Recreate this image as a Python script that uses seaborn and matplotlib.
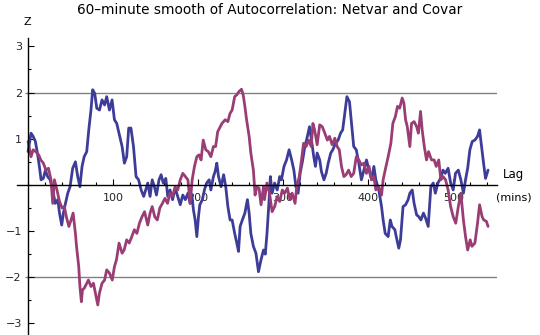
import numpy as np
import pandas as pd
import matplotlib
matplotlib.use("Agg")
import matplotlib.pyplot as plt
from matplotlib.ticker import MultipleLocator, FixedLocator
import seaborn as sns

# Smoothed autocorrelation (Z score) by lag, in minutes
netvar_lag = [0, 3.5, 6, 8.6, 11, 13.3, 15.3, 18, 20.4, 23, 26, 29, 32, 35, 37, 39.6, 41.6, 44, 46.7, 49.4,
              52.5, 55.7, 58.4, 61, 63.5, 66, 69, 71.4, 74, 76, 78.4, 80.8, 84, 87, 90, 92.5, 95.7, 98.8,
              101.6, 104.3, 107, 110.6, 113.3, 116, 118.4, 121, 124, 127, 130, 133, 136,
              140.8, 143.5, 146, 148.6, 151, 154, 156.5, 159, 162, 164.3, 167, 170, 173, 176, 179, 182, 185,
              188, 190.6, 192.6, 194.5, 196.5, 198.5, 200.4, 202, 205, 207.4, 210, 213, 215, 218, 220, 222,
              224, 227, 230, 232.5, 235, 237.6, 240, 243, 245.5, 247.5, 249.4, 252, 255, 258, 260, 262, 265,
              268, 271, 274, 276.9,
              279, 281, 283, 285, 287, 290, 293, 296, 298, 301, 304, 307, 310, 312.6, 315, 317.6, 320, 323,
              325.5, 328, 331, 333, 336, 338, 340, 343, 345, 348, 350.6, 353, 356, 358.4, 361.6, 364.7,
              367.5, 370, 372.5, 375, 378, 380.4, 383, 386, 389, 392, 395, 398, 401, 404, 406.7, 409,
              412.5, 415.7,
              417.6, 420, 423.5, 426, 428, 431.4, 433, 436, 438, 441, 444, 447, 449, 451.8, 454, 457, 459.6,
              462, 465, 467.5, 470.6, 473.7, 476.5, 479, 482, 485, 488, 490.6, 494, 497, 500, 502.7, 506,
              509, 512, 514.5, 517, 519.6, 522.4, 525.5, 528.6, 531, 533.3, 535.7, 538, 541]
netvar_z = [0.72, 1.12, 1.05, 0.94, 0.69, 0.40, 0.11, 0.14, 0.32, 0.18, 0.11, -0.11, -0.40, -0.32, -0.61,
            -0.87, -0.61, -0.40, -0.18, -0.04, 0.36, 0.50, 0.18, -0.04, 0.40, 0.61, 0.72, 1.19, 1.62, 2.06,
            1.98, 1.66, 1.62, 1.84, 1.73, 1.91, 1.62, 1.84, 1.41, 1.33, 1.12, 0.83, 0.47, 0.61, 1.23, 1.23,
            0.83, 0.18, 0.11, -0.11, -0.25,
            0.04, -0.25, 0.11, -0.04, -0.22, 0.11, 0.22, 0.04, 0.14, -0.25, -0.11, -0.32, -0.07, -0.25,
            -0.43, -0.22, -0.32, -0.18, -0.40, -0.22, -0.54, -0.76, -1.12, -0.69, -0.43, -0.32, -0.11, 0.04,
            0.11, -0.11, 0.18, 0.29, 0.47, 0.18, -0.04, 0.22, -0.04, -0.47, -0.76, -0.76, -1.05, -1.26,
            -1.44, -0.90, -0.76, -0.61, -0.32, -0.61, -1.05, -1.33, -1.48, -1.88, -1.62, -1.41,
            -1.50, -1.05, -0.47, 0.18, -0.18, 0.04, -0.11, 0.18, 0.11, 0.40, 0.54, 0.76, 0.54, 0.32, -0.04,
            -0.18, 0.25, 0.54, 0.83, 1.01, 1.26, 1.01, 0.61, 0.40, 0.69, 0.54, 0.29, 0.11, 0.25, 0.47, 0.69,
            0.76, 0.90, 0.97, 1.12, 1.19, 1.55, 1.91, 1.80, 1.33, 0.83, 0.76, 0.47, 0.11, 0.32, 0.54, 0.32,
            0.11, 0.40, 0.11, -0.11, -0.47,
            -0.76, -1.05, -1.12, -0.76, -0.90, -0.97, -1.12, -1.37, -1.19, -0.47, -0.43, -0.32, -0.18, -0.11,
            -0.40, -0.65, -0.69, -0.76, -0.61, -0.72, -0.90, -0.04, 0.04, -0.18, 0.04, 0.14, 0.32, 0.25,
            0.36, 0.04, -0.11, 0.25, 0.32, 0.11, -0.18, 0.11, 0.36, 0.76, 0.94, 0.97, 1.05, 1.19, 0.83,
            0.47, 0.14, 0.32]

covar_lag = [0, 3.5, 6, 9, 12.5, 15, 18, 21, 24, 27, 29, 31, 34, 37, 40, 42.7, 45, 48, 50.6, 53, 55.7, 57,
             59.6, 61, 62.7, 64, 66, 69, 71, 74, 76.9, 80, 82, 84, 87, 90, 92.5, 95.7, 99, 101.6, 104, 107,
             110.6, 113, 116, 119, 122, 125, 128, 131, 134, 137,
             140.8, 143.5, 146, 149, 152, 155, 158, 161, 164, 167, 170, 173, 176, 179, 182, 185, 188, 190.6,
             193, 195.7, 198.5, 201, 203.5, 206, 209, 212, 215, 218, 220.6, 223, 226, 228, 231.8, 235, 237.6,
             240, 243, 245.5, 248, 251, 253, 255, 257, 260, 262, 265, 267, 269, 271.6, 274, 276.9,
             278, 281, 284, 287, 290, 293, 296, 299, 302, 305, 308, 310.6, 314, 316, 319, 321.6, 324, 327,
             330, 333, 335, 337, 340, 343, 346, 349, 352, 354.5, 357.6, 360.8, 363.5, 366, 368.6, 371.4,
             374, 377, 380, 383, 386, 389, 392, 395, 398, 401, 404, 406.7, 409, 412.5, 415.7,
             417.6, 420, 423.5, 426.7, 429, 432, 434.5, 437, 440, 442, 444, 446, 449, 451, 454, 457, 459,
             461.6, 463.5, 466, 468.6, 471, 474.5, 477.6, 480, 483, 485.5, 488, 491, 494, 497, 500, 503,
             506, 509, 512, 514.5, 517, 520, 522, 525.5, 528.6, 531, 534, 536, 539, 541]
covar_z = [0.94, 0.61, 0.76, 0.72, 0.65, 0.54, 0.47, 0.32, 0.36, 0.11, -0.40, 0.11, -0.11, -0.36, -0.50,
           -0.47, -0.69, -0.90, -0.76, -0.61, -1.05, -1.33, -1.77, -2.20, -2.53, -2.27, -2.24, -2.13, -2.06,
           -2.20, -2.13, -2.42, -2.60, -2.34, -2.13, -2.06, -1.84, -1.91, -2.06, -1.77, -1.62, -1.26, -1.48,
           -1.41, -1.19, -1.26, -1.12, -0.97, -1.05, -0.83, -0.69, -0.58,
           -0.87, -0.61, -0.47, -0.69, -0.76, -0.50, -0.40, -0.29, -0.40, -0.18, -0.25, -0.04, -0.11, 0.11,
           0.25, 0.18, 0.11, -0.40, 0.11, 0.40, 0.61, 0.65, 0.54, 0.97, 0.76, 0.72, 0.61, 0.83, 0.83, 1.15,
           1.26, 1.33, 1.41, 1.37, 1.55, 1.62, 1.91, 1.95, 2.02, 2.07, 1.95, 1.70, 1.41, 1.05, 0.69, 0.32,
           -0.22, -0.04, -0.07, -0.43, -0.04,
           -0.32, 0.04, -0.18, -0.58, -0.47, -0.25, -0.36, -0.11, -0.18, -0.07, -0.32, -0.18, -0.40, -0.04,
           0.18, 0.54, 0.90, 0.83, 0.97, 0.83, 1.33, 1.19, 0.87, 1.30, 1.26, 1.12, 0.97, 1.05, 0.87, 1.01,
           0.83, 0.76, 0.40, 0.18, 0.22, 0.32, 0.18, 0.25, 0.61, 0.54, 0.43, 0.47, 0.25, 0.40, 0.11, 0.18,
           -0.11, -0.04, -0.22,
           0.11, 0.32, 0.61, 0.90, 1.33, 1.48, 1.70, 1.66, 1.88, 1.77, 1.41, 1.26, 0.83, 1.33, 1.37, 1.26,
           1.12, 1.59, 1.19, 0.83, 0.54, 0.72, 0.54, 0.54, 0.40, 0.54, 0.11, 0.18, 0.11, -0.11, -0.47,
           -0.69, -0.83, -0.47, -0.18, -0.76, -1.12, -1.41, -1.19, -1.33, -1.26, -0.83, -0.43, -0.69,
           -0.76, -0.79, -0.90]

x_ticks = [100, 200, 300, 400, 500]
y_ticks = [-3, -2, -1, 1, 2, 3]
ref_lines = [-2, 2]

title = "60\u2013minute smooth of Autocorrelation: Netvar and Covar"

sns.set_theme(style="white")
plt.rcParams["font.family"] = ["DejaVu Sans"]

df = pd.concat([
    pd.DataFrame({"lag": netvar_lag, "z": netvar_z, "series": "Netvar"}),
    pd.DataFrame({"lag": covar_lag, "z": covar_z, "series": "Covar"}),
])

W, H = 540, 335
fig = plt.figure(figsize=(W / 100, H / 100), dpi=100)
x0, x1 = 17, 497
y0, y1 = 38, 335
ax = fig.add_axes([x0 / W, 1 - y1 / H, (x1 - x0) / W, (y1 - y0) / H])

palette = {"Netvar": "#3d3d99", "Covar": "#993d74"}
sns.lineplot(data=df, x="lag", y="z", hue="series", palette=palette, estimator=None,
             sort=False, linewidth=2.0, legend=False, ax=ax)

ax.set_xlim(-13, 551.5)
ax.set_ylim(-3.25, 3.18)

for y in ref_lines:
    ax.hlines(y, -4, 551.5, color="#808080", linewidth=1.0, zorder=0)

for s in ["top", "right"]:
    ax.spines[s].set_visible(False)
ax.spines["left"].set_position(("data", 0))
ax.spines["bottom"].set_position(("data", 0))
for s in ["left", "bottom"]:
    ax.spines[s].set_color("black")
    ax.spines[s].set_linewidth(1.0)
    ax.spines[s].set_zorder(3)

ax.xaxis.set_major_locator(FixedLocator(x_ticks))
ax.xaxis.set_minor_locator(MultipleLocator(20))
ax.yaxis.set_major_locator(FixedLocator(y_ticks))
ax.yaxis.set_minor_locator(MultipleLocator(0.5))
ax.tick_params(axis="x", which="major", direction="in", length=4, width=0.8, color="black",
               labelsize=8, pad=5.5, bottom=True)
ax.tick_params(axis="x", which="minor", direction="in", length=2.5, width=0.8, color="black", bottom=True)
ax.tick_params(axis="y", which="major", direction="in", length=4, width=0.8, color="black",
               labelsize=8, pad=4.5, left=True)
ax.tick_params(axis="y", which="minor", direction="in", length=2.5, width=0.8, color="black", left=True)
ax.set_xticklabels([str(v) for v in x_ticks])
ax.set_yticklabels([f"{v}".replace("-", "\u2212") for v in y_ticks])
ax.set_xlabel("")
ax.set_ylabel("")
ax.grid(False)
ax.patch.set_alpha(0)

fig.text(270 / W, 1 - 10 / H, title, ha="center", va="center", fontsize=9.8, color="black")
fig.text(27 / W, 1 - 22 / H, "Z", ha="center", va="center", fontsize=8, color="black")
fig.text(514 / W, 1 - 175 / H, "Lag", ha="center", va="center", fontsize=8.5, color="black")
fig.text(514 / W, 1 - 198 / H, "(mins)", ha="center", va="center", fontsize=8, color="black")

fig.savefig("out.png", dpi=100)
